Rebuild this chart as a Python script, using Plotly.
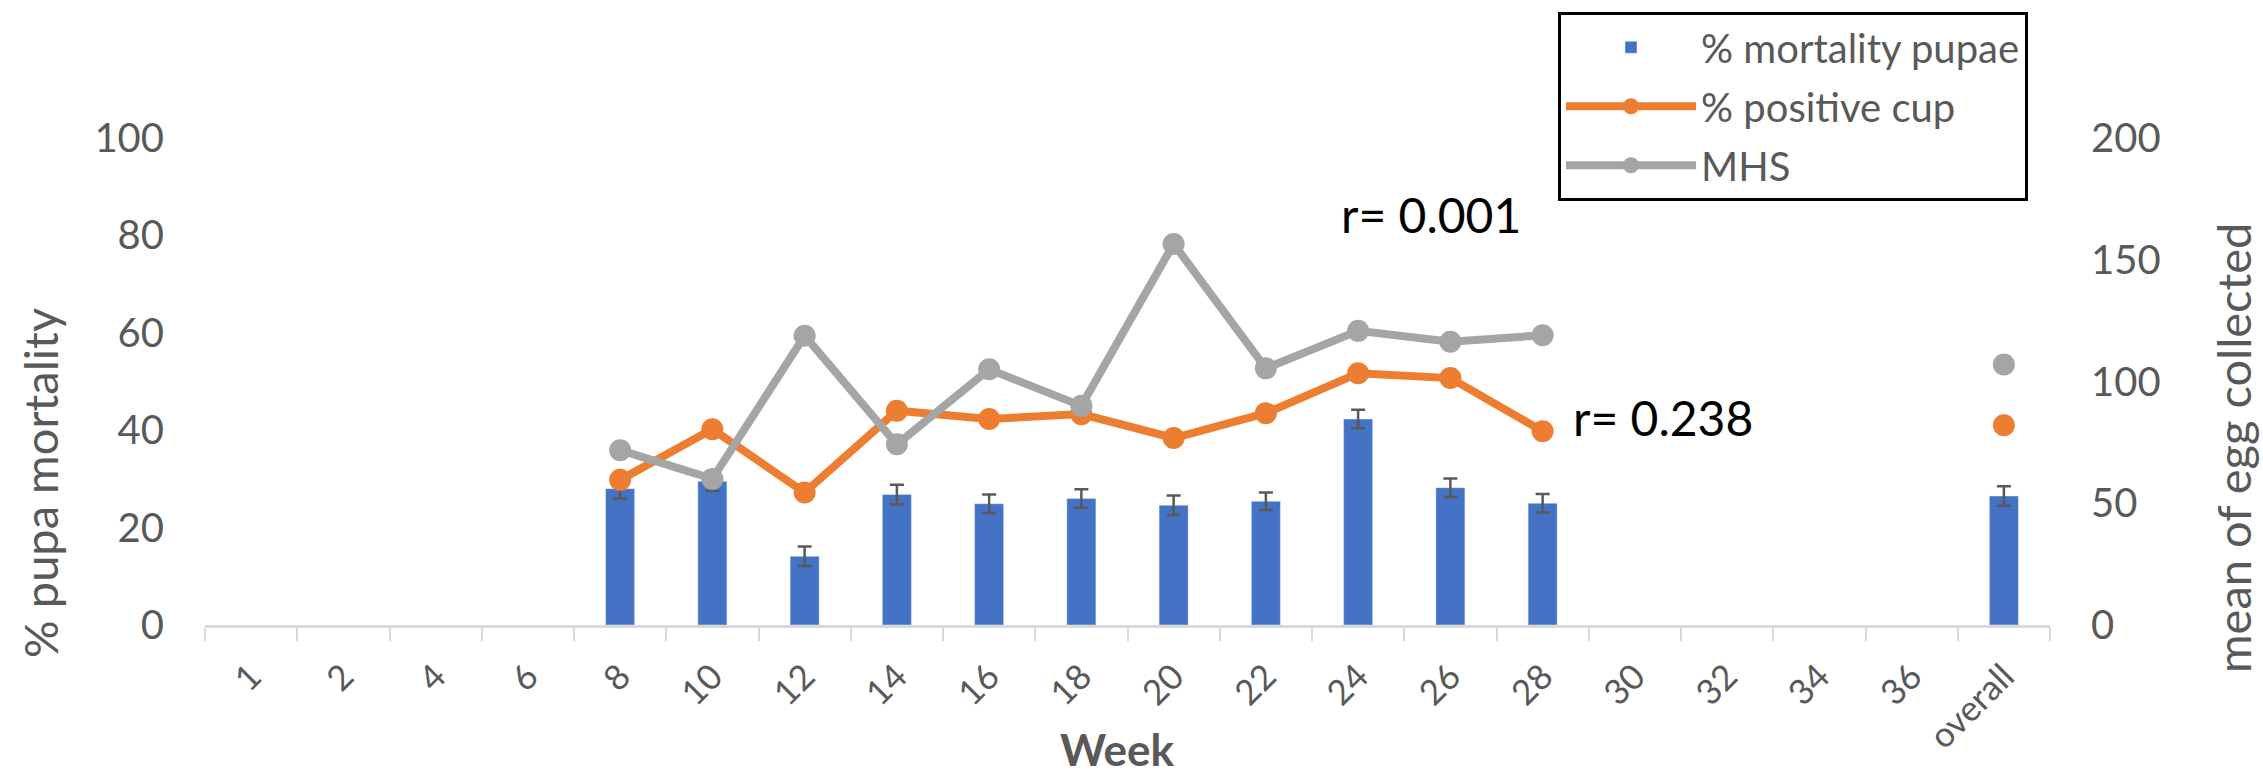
import plotly.graph_objects as go

weeks = ["1", "2", "4", "6", "8", "10", "12", "14", "16", "18", "20", "22", "24",
         "26", "28", "30", "32", "34", "36", "overall"]
mortality_pupae = [None, None, None, None, 28.0, 29.5, 14.1, 26.8, 24.9, 26.0, 24.6,
                   25.4, 42.3, 28.2, 25.0, None, None, None, None, 26.5]
mortality_err = [None, None, None, None, 2.0, 2.0, 2.0, 2.0, 1.9, 1.9, 2.0,
                 1.8, 1.9, 1.9, 1.9, None, None, None, None, 2.0]
positive_cup = [None, None, None, None, 29.8, 40.2, 27.2, 44.0, 42.3, 43.3, 38.4,
                43.5, 51.7, 50.7, 39.8, None, None, None, None, 41.0]
mhs = [None, None, None, None, 71.8, 60.0, 118.8, 74.2, 105.0, 90.0, 156.5,
       105.4, 120.8, 116.3, 119.0, None, None, None, None, 107.0]

FONT = "Lato"
GREY_TXT = "#595959"

fig = go.Figure()
fig.add_trace(go.Bar(
    x=weeks, y=mortality_pupae, name="% mortality pupae", legendgroup="a",
    marker=dict(color="#4472C4"), width=0.315,
    error_y=dict(type="data", array=mortality_err, color="#595959",
                 thickness=2.5, width=7),
))
fig.add_trace(go.Scatter(
    x=weeks, y=positive_cup, name="% positive cup", mode="lines+markers",
    legendgroup="b",
    line=dict(color="#ED7D31", width=8), marker=dict(color="#ED7D31", size=22),
    connectgaps=False,
))
fig.add_trace(go.Scatter(
    x=weeks, y=mhs, name="MHS", mode="lines+markers", yaxis="y2", legendgroup="c",
    line=dict(color="#A5A5A5", width=8), marker=dict(color="#A5A5A5", size=22),
    connectgaps=False,
))

L, R, T, B = 205, 213, 135, 157
W, H = 2263, 782
pw = W - L - R
ph = H - T - B

def px_x(x):
    return (x - L) / pw

def px_y(y):
    return (H - B - y) / ph

def label(text, x, y, size, color=GREY_TXT, angle=0, xanchor="center"):
    return dict(text=text, x=px_x(x), y=px_y(y), xref="paper", yref="paper",
                xanchor=xanchor, yanchor="middle", textangle=angle, borderpad=0,
                showarrow=False, font=dict(family=FONT, size=size, color=color))

fig.update_layout(
    width=W, height=H,
    margin=dict(l=L, r=R, t=T, b=B),
    paper_bgcolor="white", plot_bgcolor="white",
    font=dict(family=FONT, color=GREY_TXT),
    xaxis=dict(
        type="category", categoryorder="array", categoryarray=weeks,
        range=[-0.5, 19.5],
        tickangle=-45, tickfont=dict(family=FONT, size=35, color=GREY_TXT),
        showgrid=False, zeroline=False,
        showline=True, linecolor="#D9D9D9", linewidth=3,
        ticks="outside", ticklen=13, tickwidth=2, tickcolor="#D9D9D9",
        tickson="boundaries", ticklabelstandoff=14,
    ),
    yaxis=dict(
        range=[0, 100], dtick=20, showgrid=False, zeroline=False, showline=False,
        tickfont=dict(family=FONT, size=40, color=GREY_TXT),
        ticklabelstandoff=40,
    ),
    yaxis2=dict(
        range=[0, 200], dtick=50, overlaying="y", side="right",
        showgrid=False, zeroline=False, showline=False,
        tickfont=dict(family=FONT, size=40, color=GREY_TXT),
        ticklabelstandoff=40,
    ),
    showlegend=True,
    legend=dict(
        x=px_x(1558), y=px_y(8), xanchor="left", yanchor="top",
        bordercolor="black", borderwidth=3, bgcolor="white",
        font=dict(family=FONT, size=40, color=GREY_TXT),
        itemwidth=130, traceorder="grouped", tracegroupgap=4,
    ),
    annotations=[
        label("r= 0.001", 1431, 212, 48, color="black"),
        label("r= 0.238", 1572, 416, 48, color="black", xanchor="left"),
        label("<b>Week</b>", 1117, 750, 44),
        label("% pupa mortality", 40, 482, 47, angle=-90),
        label("mean of egg collected", 2233, 447, 47, angle=-90),
    ],
)

fig.write_html("out.html")
